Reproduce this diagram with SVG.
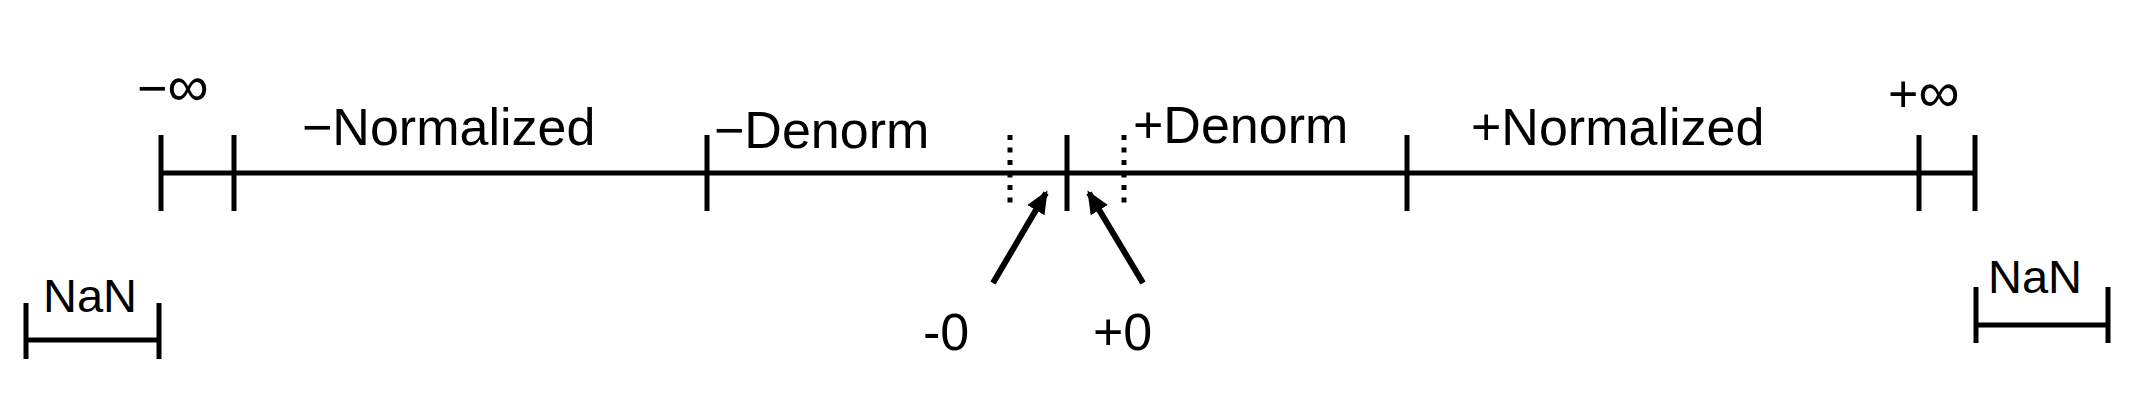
<svg xmlns="http://www.w3.org/2000/svg" width="2154" height="400" viewBox="0 0 2154 400">
<style>
  .ln{stroke:#000;stroke-width:5;fill:none}
  .dt{stroke:#000;stroke-width:5;stroke-dasharray:5 7.5;fill:none}
  .ar{stroke:#000;stroke-width:6;fill:none;marker-end:url(#ah)}
  .lb{font-family:"Liberation Sans",Arial,sans-serif;font-size:52px;fill:#000}
  .inf{font-size:58px}
  .nan{font-family:"Liberation Sans",Arial,sans-serif;font-size:47px;fill:#000}
</style>
<defs>
  <marker id="ah" markerUnits="userSpaceOnUse" markerWidth="24" markerHeight="22" refX="20" refY="10" orient="auto">
    <path d="M0,0 L23,10 L0,20 z" fill="#000"/>
  </marker>
</defs>
<rect width="2154" height="400" fill="#fff"/>
<g id="axis">
  <line class="ln" x1="159" y1="173" x2="1977" y2="173"/>
  <line class="ln" x1="161" y1="135" x2="161" y2="211"/>
  <line class="ln" x1="234" y1="135" x2="234" y2="211"/>
  <line class="ln" x1="707" y1="135" x2="707" y2="211"/>
  <line class="ln" x1="1067" y1="135" x2="1067" y2="211"/>
  <line class="ln" x1="1407" y1="135" x2="1407" y2="211"/>
  <line class="ln" x1="1919" y1="135" x2="1919" y2="211"/>
  <line class="ln" x1="1975" y1="135" x2="1975" y2="211"/>
  <line class="dt" x1="1010" y1="135" x2="1010" y2="205"/>
  <line class="dt" x1="1124" y1="135" x2="1124" y2="205"/>
</g>
<g id="neg-inf"><text class="lb" x="137" y="106">−<tspan class="inf">∞</tspan></text></g>
<g id="neg-normalized"><text class="lb" x="302" y="145">−Normalized</text></g>
<g id="neg-denorm"><text class="lb" x="714" y="148">−Denorm</text></g>
<g id="pos-denorm"><text class="lb" x="1133" y="143">+Denorm</text></g>
<g id="pos-normalized"><text class="lb" x="1471" y="145">+Normalized</text></g>
<g id="pos-inf"><text class="lb" x="1888" y="112">+<tspan class="inf">∞</tspan></text></g>
<g id="nan-left">
  <path class="ln" d="M26,303 V359 M26,340 H159 M159,303 V359"/>
  <text class="nan" x="43" y="312">NaN</text>
</g>
<g id="nan-right">
  <path class="ln" d="M1976,287 V343 M1976,325 H2108 M2108,287 V343"/>
  <text class="nan" x="1988" y="293">NaN</text>
</g>
<g id="neg-zero"><text class="lb" x="923" y="350">-0</text></g>
<g id="pos-zero"><text class="lb" x="1093" y="350">+0</text></g>
<g id="connectors">
  <line class="ar" x1="993" y1="283" x2="1046" y2="193"/>
  <line class="ar" x1="1143" y1="283" x2="1089" y2="193"/>
</g>
</svg>
